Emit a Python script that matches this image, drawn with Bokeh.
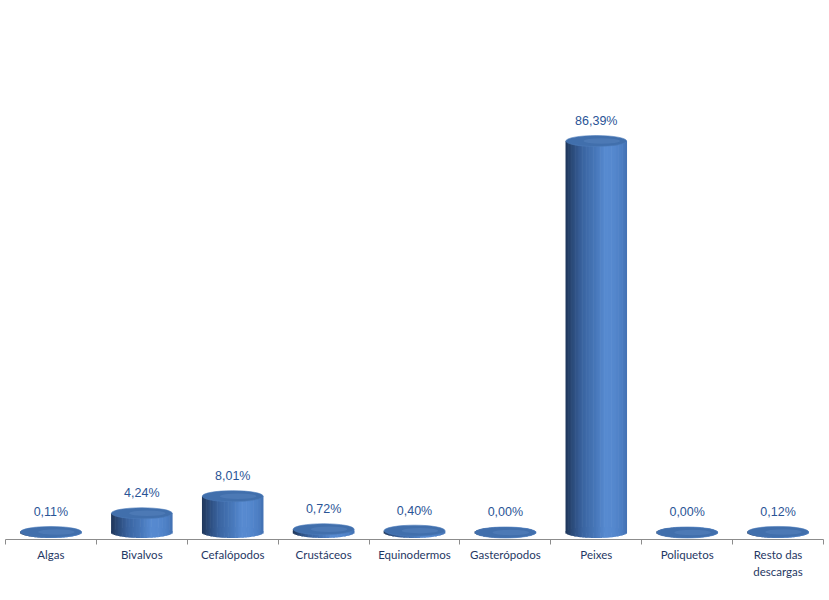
import numpy as np
from bokeh.plotting import figure
from bokeh.models import ColumnDataSource, Range1d, FixedTicker, LabelSet
from bokeh.core.properties import value
from bokeh.embed import file_html
from bokeh.resources import INLINE

categories = ["Algas", "Bivalvos", "Cefalópodos", "Crustáceos", "Equinodermos",
              "Gasterópodos", "Peixes", "Poliquetos", "Resto das\ndescargas"]
shares = [0.11, 4.24, 8.01, 0.72, 0.40, 0.00, 86.39, 0.00, 0.12]

# ---- styling / geometry (not data) ----
W = 0.67          # cylinder width in category units
E = 11            # ellipse height in screen px
N = 44            # vertical strips per cylinder for shading

stops_u = [-1.0, -0.8, -0.45, 0.0, 0.3, 0.55, 0.85, 1.0]
stops_c = ["#1F365A", "#2A4977", "#3A64A0", "#4878BA", "#578AD0", "#5689CF", "#4C7EC3", "#4371B3"]

def hex2rgb(h):
    h = h.lstrip("#")
    return [int(h[j:j + 2], 16) for j in (0, 2, 4)]

rgb_stops = np.array([hex2rgb(c) for c in stops_c], dtype=float)

def grad(u):
    r = np.interp(u, stops_u, rgb_stops[:, 0])
    g = np.interp(u, stops_u, rgb_stops[:, 1])
    b = np.interp(u, stops_u, rgb_stops[:, 2])
    return "#%02x%02x%02x" % (int(round(r)), int(round(g)), int(round(b)))

xs, tops, cols, caph = [], [], [], []
for i, v in enumerate(shares):
    for k in range(N):
        u = -1 + (2 * k + 1) / N
        xs.append(i + u * W / 2)
        tops.append(v)
        cols.append(grad(u))
        caph.append(E * np.sqrt(max(0.0, 1 - u * u)))

strip_src = ColumnDataSource(dict(x=xs, top=tops, color=cols, caph=caph))
sw = W / N * 1.45

p = figure(width=828, height=599,
           x_range=Range1d(-0.5, 8.5), y_range=Range1d(-1.55, 117.4),
           output_backend="svg", toolbar_location=None,
           y_axis_location=None,
           min_border_left=5, min_border_right=5, min_border_top=0, min_border_bottom=60,
           background_fill_color="white", border_fill_color="white")
p.outline_line_color = None
p.xgrid.visible = False
p.ygrid.visible = False

# cylinder bodies
p.vbar(x="x", top="top", bottom=0, width=sw, fill_color="color", line_color=None, source=strip_src)
p.rect(x="x", y=0, width=sw, height="caph", height_units="screen",
       fill_color="color", line_color=None, source=strip_src)

# cylinder tops
top_src = ColumnDataSource(dict(
    x=list(range(len(shares))), y=shares,
    hx=[i + 0.06 for i in range(len(shares))],
    lbl=[("%.2f" % v).replace(".", ",") + "%" for v in shares]))
p.ellipse(x="x", y="y", width=W, height=E, height_units="screen",
          fill_color="#416FAC", line_color="#4E7CBA", line_width=0.6, source=top_src)
p.ellipse(x="hx", y="y", width=W * 0.6, height=E * 0.5, height_units="screen",
          fill_color="#7EA6DE", fill_alpha=0.18, line_color=None, source=top_src)

labels = LabelSet(x="x", y="y", text="lbl", source=top_src, y_offset=20,
                  text_align="center", text_baseline="middle",
                  text_font=value("Liberation Sans"), text_font_size="12.5px",
                  text_color="#2A5496")
p.add_layout(labels)

ax = p.xaxis[0]
ax.ticker = FixedTicker(ticks=list(range(len(categories))),
                        minor_ticks=[i - 0.5 for i in range(len(categories) + 1)])
ax.major_label_overrides = {i: c for i, c in enumerate(categories)}
ax.major_tick_in = 0
ax.major_tick_out = 0
ax.major_tick_line_color = None
ax.minor_tick_in = 0
ax.minor_tick_out = 5
ax.minor_tick_line_color = "#8C8C8C"
ax.axis_line_color = "#8C8C8C"
ax.axis_line_width = 1
ax.major_label_standoff = 3
ax.major_label_text_font = "Lato"
ax.major_label_text_font_size = "11.5px"
ax.major_label_text_color = "#1F3864"
ax.major_label_text_line_height = 1.33

open("out.html", "w").write(file_html(p, INLINE))
